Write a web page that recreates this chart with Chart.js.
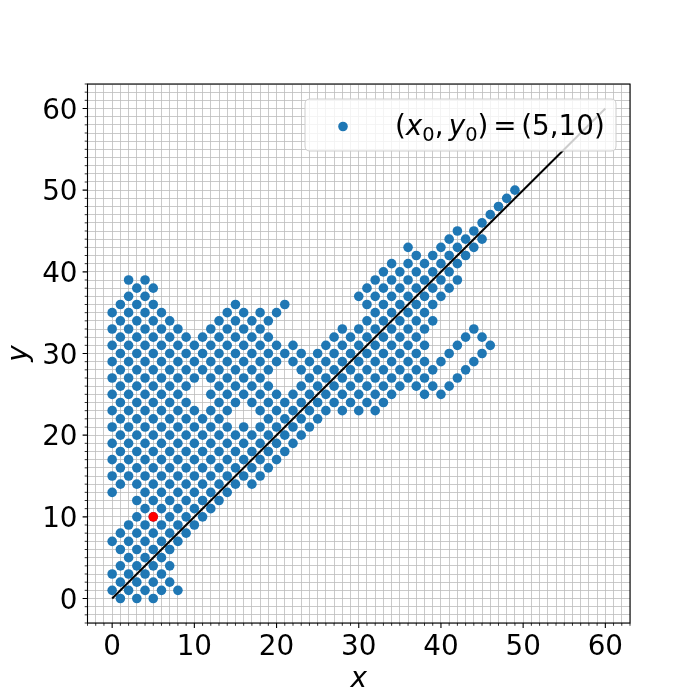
<!DOCTYPE html>
<html><head><meta charset="utf-8">
<script src="https://cdn.jsdelivr.net/npm/chart.js@4.4.0/dist/chart.umd.min.js"></script>
<style>html,body{margin:0;padding:0;background:#fff}</style>
</head><body>
<canvas id="c" width="700" height="700"></canvas>
<script>
// x values of the blue points, one list per row y = 0 .. 50
const y00 = [1,3,5];
const y01 = [0,2,4,6,8];
const y02 = [1,3,5,7];
const y03 = [0,2,4,6];
const y04 = [1,3,5,7];
const y05 = [2,4,6];
const y06 = [1,3,5,7];
const y07 = [0,2,4,6,8];
const y08 = [1,3,5,7,9];
const y09 = [2,4,6,8,10];
const y10 = [3,5,7,9,11];
const y11 = [4,6,8,10,12];
const y12 = [3,5,7,9,11,13];
const y13 = [0,4,6,8,10,12,14];
const y14 = [1,3,5,7,9,11,13,15,17];
const y15 = [0,2,4,6,8,10,12,14,16,18];
const y16 = [1,3,5,7,9,11,13,15,17,19];
const y17 = [0,2,4,6,8,10,12,14,16,18,20];
const y18 = [1,3,5,7,9,11,13,15,17,19,21];
const y19 = [0,2,4,6,8,10,12,14,16,18,20,22];
const y20 = [1,3,5,7,9,11,13,15,17,19,21,23];
const y21 = [0,2,4,6,8,10,12,14,16,18,20,22,24];
const y22 = [1,3,5,7,9,11,13,19,21,23,25];
const y23 = [0,2,4,6,8,10,12,14,18,20,22,24,26,28,30,32];
const y24 = [1,3,5,7,9,13,15,17,19,21,23,25,27,29,31,33];
const y25 = [0,2,4,6,8,12,14,16,18,20,22,24,26,28,30,32,34,38,40];
const y26 = [1,3,5,7,9,13,15,17,19,23,25,27,29,31,33,35,37,39,41];
const y27 = [0,2,4,6,8,10,12,14,16,18,24,26,28,30,32,34,36,38,42];
const y28 = [1,3,5,7,9,11,13,15,17,19,23,25,27,29,31,33,35,37,39,43];
const y29 = [0,2,4,6,8,10,12,14,16,18,20,22,24,26,28,30,32,34,36,38,40,44];
const y30 = [1,3,5,7,9,11,13,15,17,19,21,23,25,27,29,31,33,35,37,41,45];
const y31 = [0,2,4,6,8,10,12,14,16,18,20,22,26,28,30,32,34,36,38,42,46];
const y32 = [1,3,5,7,9,11,13,15,17,19,27,29,31,33,35,37,43,45];
const y33 = [0,2,4,6,8,12,14,16,18,28,30,32,34,36,38,44];
const y34 = [1,3,5,7,13,15,17,19,31,33,35,37,39];
const y35 = [0,2,4,6,14,16,18,20,32,34,36,38];
const y36 = [1,3,5,15,21,31,33,35,37,39];
const y37 = [2,4,30,32,34,36,38,40];
const y38 = [3,5,31,33,35,37,39,41];
const y39 = [2,4,32,34,36,38,40,42];
const y40 = [33,35,37,39,41];
const y41 = [34,36,38,40,42];
const y42 = [37,39,41,43];
const y43 = [36,40,42,44];
const y44 = [41,43,45];
const y45 = [42,44];
const y46 = [45];
const y47 = [46];
const y48 = [47];
const y49 = [48];
const y50 = [49];
const rowLists = [y00,y01,y02,y03,y04,y05,y06,y07,y08,y09,y10,y11,y12,y13,y14,y15,y16,y17,y18,y19,
  y20,y21,y22,y23,y24,y25,y26,y27,y28,y29,y30,y31,y32,y33,y34,y35,y36,y37,y38,y39,
  y40,y41,y42,y43,y44,y45,y46,y47,y48,y49,y50];

const startX = [5];
const startY = [10];
const lineX = [0, 60];
const lineY = [0, 60];
const tickValues = [0, 10, 20, 30, 40, 50, 60];
const axisRange = [-3, 63];
const legendLabel = ['(', 'x', '0', ',', 'y', '0', ')', '=', '(5,10)'];

const blue = '#1f77b4';
const FONT = '"DejaVu Sans"';
const FS = 27.8;

const clusterPts = [];
rowLists.forEach((xs, yv) => xs.forEach(xv => clusterPts.push({x: xv, y: yv})));
const startPts = startX.map((v, i) => ({x: v, y: startY[i]}));
const linePts = lineX.map((v, i) => ({x: v, y: lineY[i]}));

function unitTicks(scale) {
  const t = [];
  for (let v = Math.ceil(axisRange[0]); v <= Math.floor(axisRange[1]); v++) t.push({value: v});
  scale.ticks = t;
}
const tickCb = v => tickValues.includes(v) ? String(v) : '';

const decor = {
  id: 'decor',
  afterDraw(chart) {
    const {ctx, chartArea: a, scales: {x, y}} = chart;
    ctx.save();
    // spines
    ctx.strokeStyle = '#000';
    ctx.lineWidth = 1.1;
    ctx.strokeRect(a.left, a.top, a.right - a.left, a.bottom - a.top);
    // tick marks
    for (let v = Math.ceil(axisRange[0]); v <= Math.floor(axisRange[1]); v++) {
      const major = tickValues.includes(v);
      const len = major ? 4.9 : 2.8;
      ctx.lineWidth = major ? 1.1 : 0.8;
      const px = x.getPixelForValue(v);
      const py = y.getPixelForValue(v);
      ctx.beginPath();
      ctx.moveTo(px, a.bottom); ctx.lineTo(px, a.bottom + len);
      ctx.moveTo(a.left, py); ctx.lineTo(a.left - len, py);
      ctx.stroke();
    }
    // axis titles
    ctx.fillStyle = '#000';
    ctx.font = `italic ${FS}px ${FONT}`;
    ctx.textAlign = 'center';
    ctx.textBaseline = 'alphabetic';
    ctx.fillText('x', (a.left + a.right) / 2, 687);
    ctx.save();
    ctx.translate(27, (a.top + a.bottom) / 2);
    ctx.rotate(-Math.PI / 2);
    ctx.fillText('y', 0, 0);
    ctx.restore();
    // legend
    const L = 305, T = 99, R = 616, B = 151, r = 5;
    ctx.beginPath();
    ctx.moveTo(L + r, T); ctx.lineTo(R - r, T); ctx.quadraticCurveTo(R, T, R, T + r);
    ctx.lineTo(R, B - r); ctx.quadraticCurveTo(R, B, R - r, B);
    ctx.lineTo(L + r, B); ctx.quadraticCurveTo(L, B, L, B - r);
    ctx.lineTo(L, T + r); ctx.quadraticCurveTo(L, T, L + r, T);
    ctx.closePath();
    ctx.fillStyle = 'rgba(255,255,255,0.8)';
    ctx.fill();
    ctx.strokeStyle = '#cccccc';
    ctx.lineWidth = 1;
    ctx.stroke();
    ctx.fillStyle = blue;
    ctx.beginPath(); ctx.arc(343, 126.5, 4.8, 0, Math.PI * 2); ctx.fill();
    // math text
    ctx.fillStyle = '#000';
    ctx.textAlign = 'left';
    let cx = 395; const base = 135;
    const norm = `${FS}px ${FONT}`, ital = `italic ${FS}px ${FONT}`, sub = `${FS * 0.7}px ${FONT}`;
    const put = (s, f, dy, extra) => { ctx.font = f; ctx.fillText(s, cx, base + (dy || 0)); cx += ctx.measureText(s).width + (extra || 0); };
    put(legendLabel[0], norm);
    put(legendLabel[1], ital);
    put(legendLabel[2], sub, 5.5);
    put(legendLabel[3], norm, 0, FS * 0.19);
    put(legendLabel[4], ital);
    put(legendLabel[5], sub, 5.5);
    put(legendLabel[6], norm, 0, FS * 0.17);
    put(legendLabel[7], norm, 0, FS * 0.17);
    put(legendLabel[8], norm);
    ctx.restore();
  }
};

new Chart(document.getElementById('c'), {
  type: 'scatter',
  data: {
    datasets: [
      {data: startPts, backgroundColor: 'red', borderWidth: 0, pointRadius: 4.8, order: 0},
      {type: 'line', data: linePts, borderColor: '#000', borderWidth: 2, pointRadius: 0, showLine: true, fill: false, order: 1},
      {data: clusterPts, backgroundColor: blue, borderWidth: 0, pointRadius: 4.8, order: 2}
    ]
  },
  plugins: [decor],
  options: {
    responsive: false,
    animation: false,
    events: [],
    layout: {padding: {top: 84, right: 70, left: 0, bottom: 0}},
    plugins: {legend: {display: false}, tooltip: {enabled: false}},
    scales: {
      x: {
        type: 'linear', min: axisRange[0], max: axisRange[1],
        afterBuildTicks: unitTicks,
        afterFit: s => { s.height = 77; },
        grid: {color: '#bdbdbd', lineWidth: 0.8, drawTicks: false},
        border: {display: false},
        ticks: {autoSkip: false, maxRotation: 0, callback: tickCb, padding: 8, color: '#000', font: {family: 'DejaVu Sans', size: FS}}
      },
      y: {
        type: 'linear', min: axisRange[0], max: axisRange[1],
        afterBuildTicks: unitTicks,
        afterFit: s => { s.width = 87.5; },
        grid: {color: '#bdbdbd', lineWidth: 0.8, drawTicks: false},
        border: {display: false},
        ticks: {autoSkip: false, callback: tickCb, padding: 10, labelOffset: 3, color: '#000', font: {family: 'DejaVu Sans', size: FS}}
      }
    }
  }
});
</script>
</body></html>
